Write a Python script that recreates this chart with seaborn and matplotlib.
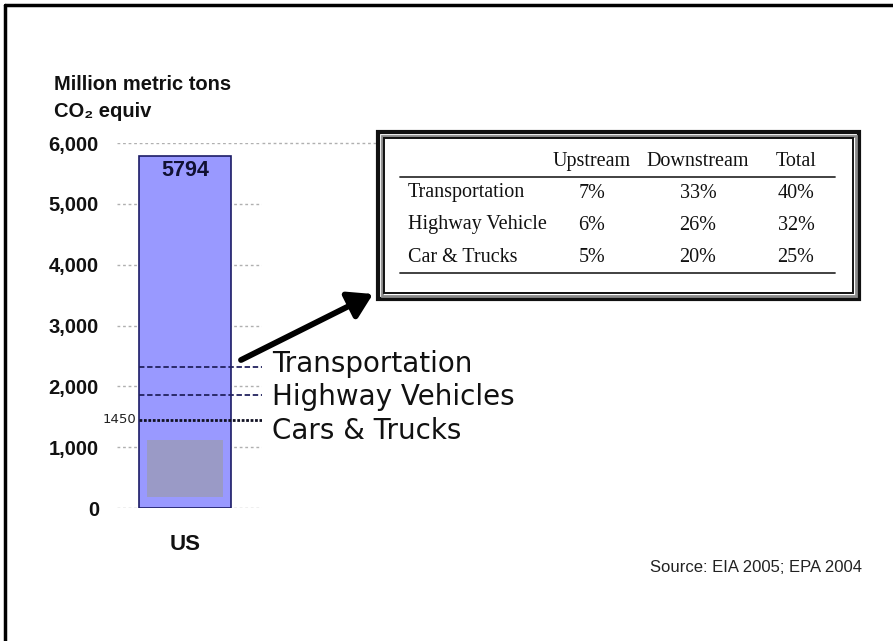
import matplotlib
matplotlib.use("Agg")
import matplotlib.pyplot as plt
import matplotlib.transforms as mtransforms
from matplotlib.patches import Rectangle, FancyArrowPatch
from matplotlib.lines import Line2D
from matplotlib.ticker import FuncFormatter
import seaborn as sns
import pandas as pd

# ---------------- data ----------------
categories = ["US"]
totals = [5794]
sector_names = ["Transportation", "Highway Vehicles", "Cars & Trucks"]
sector_values = [2318, 1854, 1450]
inner_box = [180, 1115]          # grey inner block (bottom, top)
y_ticks = [0, 1000, 2000, 3000, 4000, 5000, 6000]
marked_value = 1450

table_cols = ["Upstream", "Downstream", "Total"]
table_rows = ["Transportation", "Highway Vehicle", "Car & Trucks"]
upstream = ["7%", "6%", "5%"]
downstream = ["33%", "26%", "20%"]
total_pct = ["40%", "32%", "25%"]

source_text = "Source: EIA 2005; EPA 2004"

# ---------------- figure ----------------
sns.set_style("white")
plt.rcParams["font.family"] = ["Liberation Sans", "DejaVu Sans"]
plt.rcParams["text.color"] = "#111111"
plt.rcParams["xtick.color"] = "#111111"
plt.rcParams["ytick.color"] = "#111111"

W, H = 893, 641
fig = plt.figure(figsize=(W / 100, H / 100), dpi=100)

def fx(px):
    return px / W

def fy(py):
    return 1 - py / H

ax_left, ax_right = 117, 262
ax_top, ax_bottom = 143, 508
ax = fig.add_axes([fx(ax_left), fy(ax_bottom), fx(ax_right - ax_left), (ax_bottom - ax_top) / H])

df = pd.DataFrame({"region": categories, "total": totals})
bar_w = 92 / (ax_right - ax_left)
sns.barplot(data=df, x="region", y="total", color="#9999ff", saturation=1,
            width=bar_w, edgecolor="#1c1c66", linewidth=1.2, ax=ax, zorder=2)

xl = -0.469
ax.set_xlim(xl, xl + 1)
ax.set_ylim(0, 6000)

# grey inner block
inner_w = 76 / (ax_right - ax_left)
ax.bar([0], [inner_box[1] - inner_box[0]], bottom=[inner_box[0]], width=inner_w,
       color="#9a9ac6", linewidth=0, zorder=3)

# gridlines (dotted, behind bar)
for t in y_ticks:
    ax.axhline(t, color="#b0b0b0", lw=1, ls=(0, (2, 2)), zorder=1)
blend = mtransforms.blended_transform_factory(ax.transAxes, ax.transData)
ax.plot([1, (377 - ax_left) / (ax_right - ax_left)], [6000, 6000], transform=blend,
        color="#b0b0b0", lw=1, ls=(0, (2, 2)), clip_on=False, zorder=1)

# sector lines
bar_left = -bar_w / 2
styles = [dict(color="#22225e", lw=1.3, ls=(0, (3, 1.5))),
          dict(color="#22225e", lw=1.3, ls=(0, (3, 1.5))),
          dict(color="#111122", lw=2.0, ls=(0, (1, 0.6)))]
for v, st in zip(sector_values, styles):
    ax.hlines(v, bar_left, xl + 1, zorder=4, **st)

# value label
ax.text(0, totals[0] - 80, f"{totals[0]}", ha="center", va="top",
        fontsize=15.5, fontweight="bold", color="#111133", zorder=5)

# 1450 label
ax.text((136 - ax_left) / (ax_right - ax_left), marked_value, f"{marked_value}",
        transform=blend, ha="right", va="center", fontsize=9.5,
        family=["DejaVu Sans"], color="#222222")

# ticks
ax.set_yticks(y_ticks)
ax.yaxis.set_major_formatter(FuncFormatter(lambda v, p: f"{v:,.0f}"))
ax.tick_params(axis="y", length=0, pad=13, labelsize=14.5, labelcolor="#111111")
ax.tick_params(axis="x", length=0, pad=19, labelsize=16, labelcolor="#111111")
for lab in ax.get_yticklabels() + ax.get_xticklabels():
    lab.set_fontweight("bold")
ax.set_xlabel("")
ax.set_ylabel("")
for s in ax.spines.values():
    s.set_visible(False)

# axis title
fig.text(fx(54), fy(90), "Million metric tons", ha="left", va="baseline",
         fontsize=14.5, fontweight="bold")
fig.text(fx(54), fy(117), "CO\u2082 equiv", ha="left", va="baseline",
         fontsize=14.5, fontweight="bold", family=["Liberation Sans", "DejaVu Sans"])

# sector labels
label_base = [372, 405, 439]
for name, py in zip(sector_names, label_base):
    fig.text(fx(272), fy(py), name, ha="left", va="baseline", fontsize=20,
             family=["DejaVu Sans"], color="#111111")

# arrow
arr = FancyArrowPatch((fx(241), fy(360)), (fx(373), fy(294)), transform=fig.transFigure,
                      arrowstyle="-|>,head_length=9,head_width=5.5", lw=4.2,
                      color="black", mutation_scale=1.6, shrinkA=0, shrinkB=0)
fig.add_artist(arr)

# table box
def frect(x0, y0, x1, y1, **kw):
    r = Rectangle((fx(x0), fy(y1)), fx(x1 - x0), (y1 - y0) / H,
                  transform=fig.transFigure, fill=False, **kw)
    fig.add_artist(r)

frect(378, 132, 859, 299, edgecolor="#111111", lw=3)
frect(381.5, 135.5, 855.5, 295.5, edgecolor="#8a8a8a", lw=2)
frect(384, 138, 853, 293, edgecolor="#111111", lw=1.4)

serif = ["Liberation Serif", "DejaVu Serif"]
col_x = [592, 698, 796]
header_y = 162
row_y = [193, 225, 257]
for cx, c in zip(col_x, table_cols):
    fig.text(fx(cx), fy(header_y), c, ha="center", va="center", fontsize=14.5,
             family=serif, color="#111111")
fig.add_artist(Line2D([fx(400), fx(835)], [fy(177), fy(177)], color="#333333", lw=1.3,
                      transform=fig.transFigure))
fig.add_artist(Line2D([fx(400), fx(835)], [fy(273), fy(273)], color="#333333", lw=1.3,
                      transform=fig.transFigure))
for i, ry in enumerate(row_y):
    fig.text(fx(408), fy(ry), table_rows[i], ha="left", va="center", fontsize=14.5,
             family=serif, color="#111111")
    for cx, vals in zip(col_x, [upstream, downstream, total_pct]):
        fig.text(fx(cx), fy(ry), vals[i], ha="center", va="center", fontsize=14.5,
                 family=serif, color="#111111")

# source
fig.text(fx(650), fy(568), source_text, ha="left", va="center", fontsize=12, color="#222222")

# frame lines (top and left)
fig.add_artist(Line2D([fx(5), 1], [fy(5), fy(5)], color="black", lw=2.5, transform=fig.transFigure))
fig.add_artist(Line2D([fx(5), fx(5)], [fy(5), 0], color="black", lw=2.5, transform=fig.transFigure))

fig.savefig("out.png", dpi=100)
